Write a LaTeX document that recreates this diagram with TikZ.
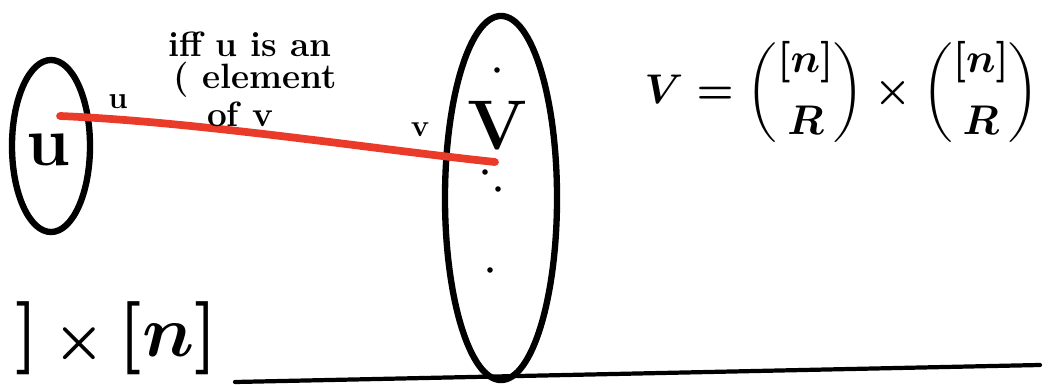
\documentclass[tikz,border=0pt]{standalone}
\usepackage{amsmath}
\usetikzlibrary{shapes.geometric}
\definecolor{pen}{HTML}{EA3B2A}
\begin{document}
\begin{tikzpicture}[
  x=0.025cm, y=-0.025cm, line cap=round, line join=round,
  blob/.style={draw, ellipse, line width=4.5pt, inner sep=0pt},
  dot/.style={circle, fill, inner sep=1.4pt},
  big/.style={font=\fontsize{50}{52}\selectfont\bfseries},
  lbl/.style={font=\fontsize{22}{24}\selectfont\bfseries},
  note/.style={font=\fontsize{25}{26}\selectfont\bfseries},
  eqn/.style={font=\boldmath, inner sep=0pt},
  pair/.style={draw=pen, line width=5.5pt},
]
  \useasboundingbox (0,0) rectangle (1058,385);
  \clip (0,0) rectangle (1058,385);
  % the two sets
  \node[blob, minimum width=1.95cm, minimum height=4.3cm] (U) at (51,146) {};
  \node[blob, minimum width=2.8cm, minimum height=9.1cm] (V) at (501,198) {};
  \node[big] (u) at (48,150) {u};
  \node[big] (v) at (497,126) {V};
  \foreach \p [count=\i] in {(497,70),(485,172),(498,189),(490,270)}
    \node[dot] (d\i) at \p {};
  % edge between u and v
  \coordinate (pu) at (60,116);
  \coordinate (pv) at (495,162);
  \draw[pair] (pu) .. controls (200,122) and (380,150) .. (pv);
  \node[lbl] (lu) at (118,102) {u};
  \node[lbl] (lv) at (420,130) {v};
  \node[note] (n1) at (250,44) {iff u is an};
  \node[note] (n2) at (255,80) {( element};
  \node[note] (n3) at (240,114) {of v};
  % vertex set
  \node[eqn] (eq) at (842,92) {\scalebox{2.95}{$\displaystyle V=\binom{[n]}{R}\times\binom{[n]}{R}$}};
  \node[eqn, anchor=east] (prod) at (218,338) {\scalebox{5.2}{$]\,{\scriptstyle\times}\,[n]$}};
  \coordinate (l1) at (235,382);
  \coordinate (l2) at (1040,365);
  \draw[line width=3pt] (l1) -- (l2);
\end{tikzpicture}
\end{document}
